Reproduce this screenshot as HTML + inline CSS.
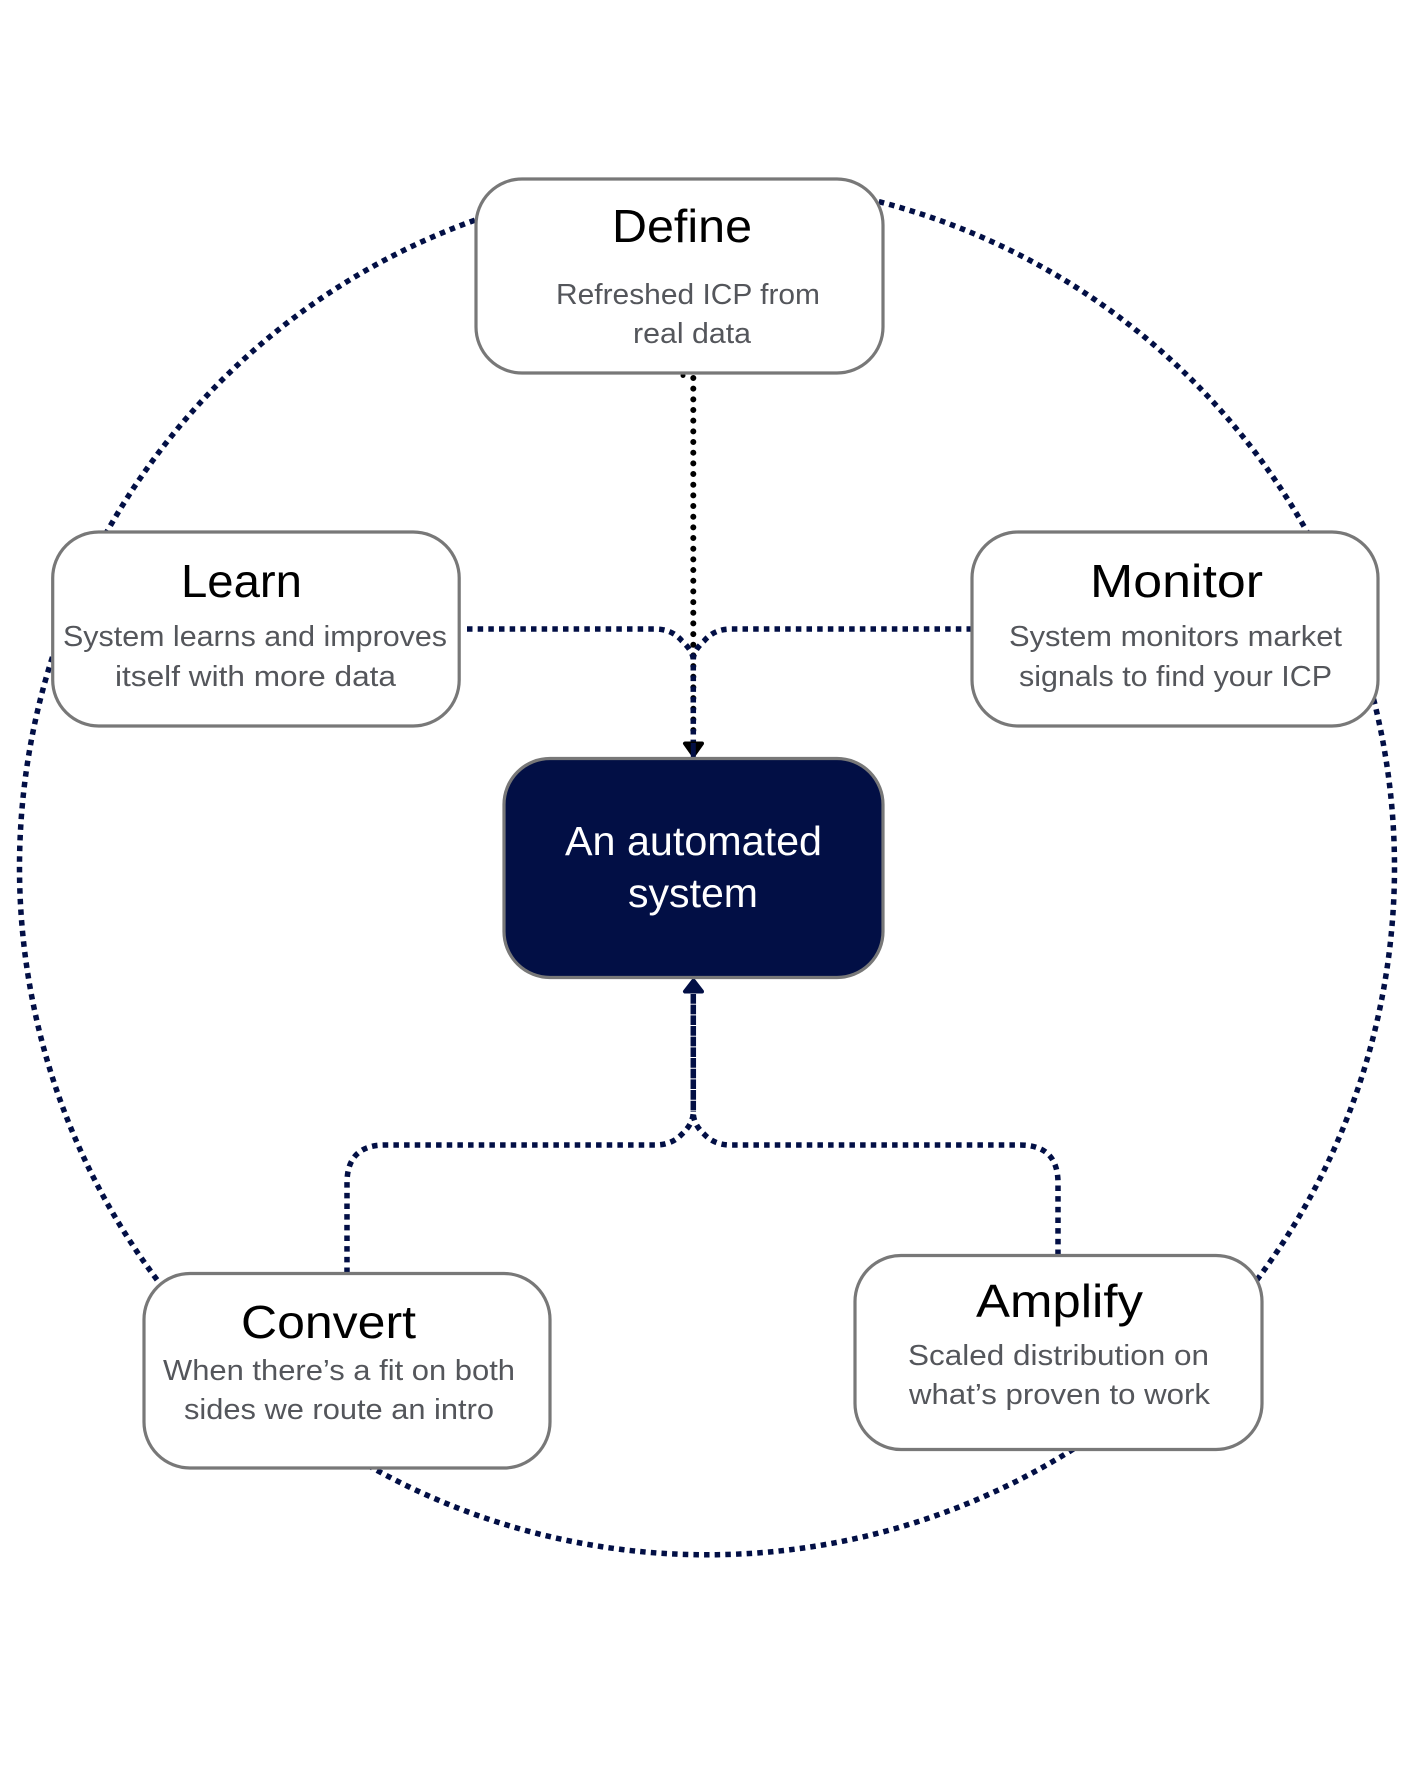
<!DOCTYPE html>
<html>
<head>
<meta charset="utf-8">
<style>
html,body{margin:0;padding:0;background:#fff}
svg{display:block}
text{font-family:"Liberation Sans",sans-serif}
.t{font-size:46px;fill:#000}
.d{font-size:29px;fill:#54565b}
.c{font-size:41px;fill:#fff}
.box{fill:#fff;stroke:#787878;stroke-width:3.2}
.sq{fill:none;stroke:#020f45;stroke-width:5.5;stroke-dasharray:5.5 5.166}
</style>
</head>
<body>
<svg width="1414" height="1771" viewBox="0 0 1414 1771" xmlns="http://www.w3.org/2000/svg">
<rect width="1414" height="1771" fill="#fff"/>
<circle class="sq" cx="707" cy="867.3" r="687.5"/>
<rect x="600" y="165" width="200" height="14" fill="#fff"/>

<circle cx="683" cy="375.5" r="2.5" fill="#000"/>
<path d="M693.3 378V735" fill="none" stroke="#000" stroke-width="6" stroke-linecap="round" stroke-dasharray="0 10.67"/>
<path class="sq" d="M467 629H655Q672 629 682 641Q693 651 693.3 660"/>
<path class="sq" d="M972 629H731Q714 629 704 641Q693 651 693.3 660"/>
<path class="sq" d="M693.3 665V742"/>
<path d="M685 743.5H702L693.5 755.5Z" fill="#000" stroke="#000" stroke-width="4" stroke-linejoin="round"/>
<path d="M693.3 743V758" stroke="#020f45" stroke-width="5"/>

<path class="sq" d="M347 1273V1183Q347 1145 385 1145H655Q672 1145 682 1134Q693 1124 693.3 1112"/>
<path class="sq" d="M1058 1255V1183Q1058 1145 1020 1145H731Q714 1145 704 1134Q693 1124 693.3 1112"/>
<path d="M693.3 994V1112" fill="none" stroke="#020f45" stroke-width="5.5" stroke-dasharray="9.7 0.97"/>
<path d="M685 991.5H702L693.5 980.5Z" fill="#020f45" stroke="#020f45" stroke-width="4" stroke-linejoin="round"/>

<rect class="box" x="476" y="179" width="407" height="194" rx="46"/>
<rect class="box" x="52.7" y="532" width="406.5" height="194" rx="46"/>
<rect class="box" x="972" y="532" width="406" height="194" rx="46"/>
<rect class="box" x="144" y="1273.5" width="406" height="194.5" rx="46"/>
<rect class="box" x="855" y="1255.5" width="407" height="194" rx="46"/>
<rect x="504" y="758.5" width="379" height="219" rx="46" fill="#020f45" stroke="#787878" stroke-width="3.2"/>

<text class="t" x="612" y="242" textLength="140" lengthAdjust="spacingAndGlyphs">Define</text>
<text class="d" x="556" y="304" textLength="264" lengthAdjust="spacingAndGlyphs">Refreshed ICP from</text>
<text class="d" x="633" y="343" textLength="118" lengthAdjust="spacingAndGlyphs">real data</text>

<text class="t" x="181" y="597" textLength="121" lengthAdjust="spacingAndGlyphs">Learn</text>
<text class="d" x="63" y="646" textLength="384" lengthAdjust="spacingAndGlyphs">System learns and improves</text>
<text class="d" x="115" y="686" textLength="281" lengthAdjust="spacingAndGlyphs">itself with more data</text>

<text class="t" x="1090" y="597" textLength="173" lengthAdjust="spacingAndGlyphs">Monitor</text>
<text class="d" x="1009" y="646" textLength="333" lengthAdjust="spacingAndGlyphs">System monitors market</text>
<text class="d" x="1019" y="686" textLength="313" lengthAdjust="spacingAndGlyphs">signals to find your ICP</text>

<text class="c" x="565" y="855" textLength="257" lengthAdjust="spacingAndGlyphs">An automated</text>
<text class="c" x="628" y="907" textLength="130" lengthAdjust="spacingAndGlyphs">system</text>

<text class="t" x="241" y="1338" textLength="175" lengthAdjust="spacingAndGlyphs">Convert</text>
<text class="d" x="163" y="1380" textLength="352" lengthAdjust="spacingAndGlyphs">When there’s a fit on both</text>
<text class="d" x="184" y="1419" textLength="310" lengthAdjust="spacingAndGlyphs">sides we route an intro</text>

<text class="t" x="976" y="1317" textLength="167" lengthAdjust="spacingAndGlyphs">Amplify</text>
<text class="d" x="908" y="1365" textLength="301" lengthAdjust="spacingAndGlyphs">Scaled distribution on</text>
<text class="d" x="909" y="1404" textLength="301" lengthAdjust="spacingAndGlyphs">what’s proven to work</text>
</svg>
</body>
</html>
